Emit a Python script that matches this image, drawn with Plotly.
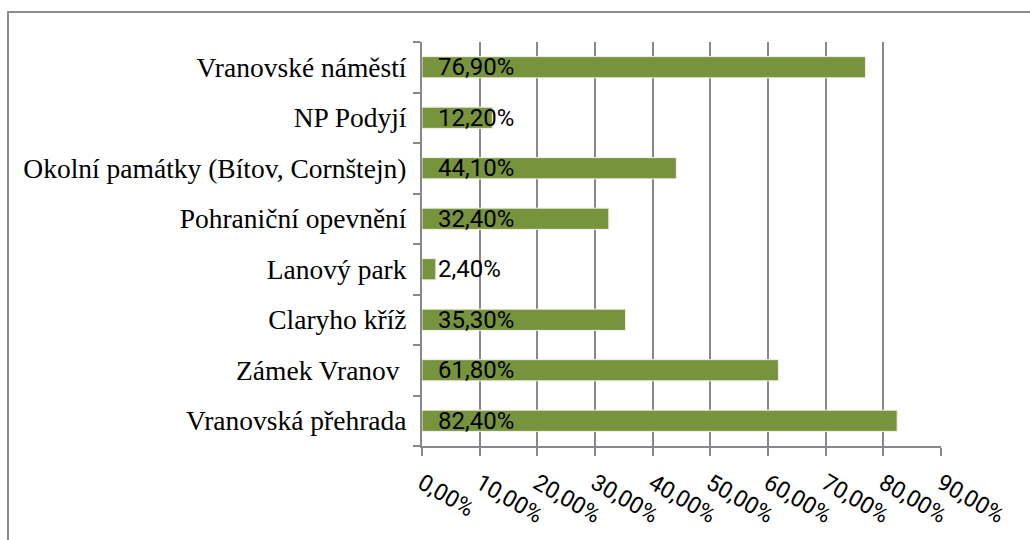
import plotly.graph_objects as go

# data (bottom to top, as in the chart)
kategorie = ['Vranovská přehrada', 'Zámek Vranov ', 'Claryho kříž', 'Lanový park',
             'Pohraniční opevnění', 'Okolní památky (Bítov, Cornštejn)', 'NP Podyjí',
             'Vranovské náměstí']
hodnoty = [0.824, 0.618, 0.353, 0.024, 0.324, 0.441, 0.122, 0.769]
popisky = ['82,40%', '61,80%', '35,30%', '2,40%', '32,40%', '44,10%', '12,20%', '76,90%']
x_ticks = [0, 0.1, 0.2, 0.3, 0.4, 0.5, 0.6, 0.7, 0.8, 0.9]

seda = '#888888'

fig = go.Figure()

fig.add_trace(go.Bar(
    y=kategorie,
    x=hodnoty,
    orientation='h',
    marker=dict(color='#77933C', line=dict(color='#EEF0EA', width=1)),
    width=0.42,
    hoverinfo='skip',
))

# popisky hodnot u základny sloupců
for kat, txt in zip(kategorie, popisky):
    fig.add_annotation(
        x=0, y=kat, text=txt, showarrow=False,
        xanchor='left', yanchor='middle', xshift=14,
        font=dict(family='Roboto', size=24, color='black'),
    )

fig.update_layout(
    width=1030,
    height=540,
    margin=dict(l=422, r=89, t=42, b=94),
    paper_bgcolor='white',
    plot_bgcolor='white',
    showlegend=False,
    separators=', ',
    shapes=[dict(type='rect', xref='paper', yref='paper',
                 x0=-0.7977, x1=1.4, y0=-0.6, y1=1.0743,
                 line=dict(color='#8c8c8c', width=2), layer='below')],
)

fig.update_xaxes(
    range=[0, 0.9],
    tickvals=x_ticks,
    tickformat='.2%',
    tickangle=30,
    tickfont=dict(family='Roboto', size=23, color='black'),
    showgrid=True, gridcolor=seda, gridwidth=2,
    showline=True, linecolor=seda, linewidth=2,
    ticks='outside', ticklen=8, tickcolor=seda, tickwidth=2,
    ticklabelstandoff=5,
    zeroline=False,
    automargin=False,
)

fig.update_yaxes(
    categoryorder='array',
    categoryarray=kategorie,
    tickfont=dict(family='Liberation Serif', size=27.5, color='black'),
    showline=True, linecolor=seda, linewidth=2,
    ticks='outside', ticklen=7, tickcolor=seda, tickwidth=2,
    tickson='boundaries',
    showgrid=False,
    ticklabelstandoff=8,
    automargin=False,
)

fig.write_html('out.html', config={'displayModeBar': False},
               post_script="document.body.style.margin='0';")
